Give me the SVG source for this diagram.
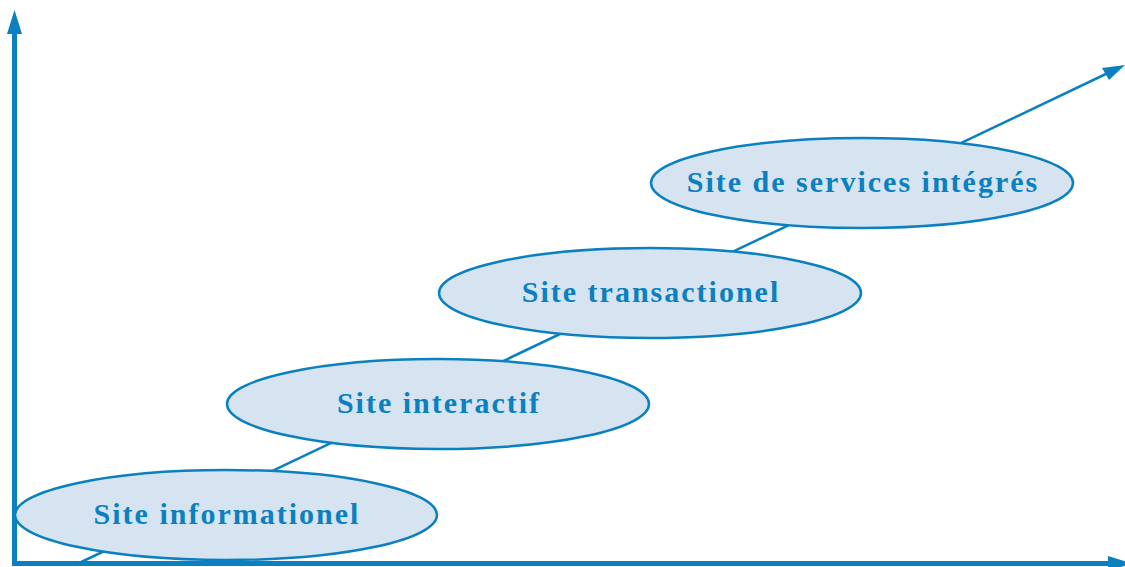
<svg xmlns="http://www.w3.org/2000/svg" width="1125" height="567" viewBox="0 0 1125 567">
  <style>
    .axis { stroke: #0a80c0; stroke-width: 5; fill: none; }
    .trend { stroke: #0a80c0; stroke-width: 2.5; fill: none; }
    .head { fill: #0a80c0; }
    .stage ellipse { fill: #d6e4f2; stroke: #0a80c0; stroke-width: 2.5; }
    .stage text { font-family: "Liberation Serif", "DejaVu Serif", serif; font-weight: bold; font-size: 30px; letter-spacing: 2px; fill: #0a80c0; text-anchor: middle; }
  </style>
  <g id="connectors">
    <!-- rising trend line with its arrowhead -->
    <line class="trend" x1="75" y1="565" x2="1110" y2="72"/>
    <path class="head" d="M1125,65 L1102,68 L1109,80 z"/>
    <!-- vertical axis -->
    <line class="axis" x1="14.5" y1="566" x2="14.5" y2="30"/>
    <path class="head" d="M14.5,10 L7,34 L22,34 z"/>
    <!-- horizontal axis -->
    <line class="axis" x1="12" y1="563.5" x2="1110" y2="563.5"/>
    <path class="head" d="M1132,563.5 L1108,556 L1108,571 z"/>
  </g>
  <g id="site-informationel" class="stage">
    <ellipse cx="226" cy="515" rx="211" ry="45"/>
    <text x="227" y="524">Site informationel</text>
  </g>
  <g id="site-interactif" class="stage">
    <ellipse cx="438" cy="404" rx="211" ry="45"/>
    <text x="439" y="413">Site interactif</text>
  </g>
  <g id="site-transactionel" class="stage">
    <ellipse cx="650" cy="293" rx="211" ry="45"/>
    <text x="651" y="302">Site transactionel</text>
  </g>
  <g id="site-services-integres" class="stage">
    <ellipse cx="862" cy="183" rx="211" ry="45"/>
    <text x="863" y="192">Site de services intégrés</text>
  </g>
</svg>
